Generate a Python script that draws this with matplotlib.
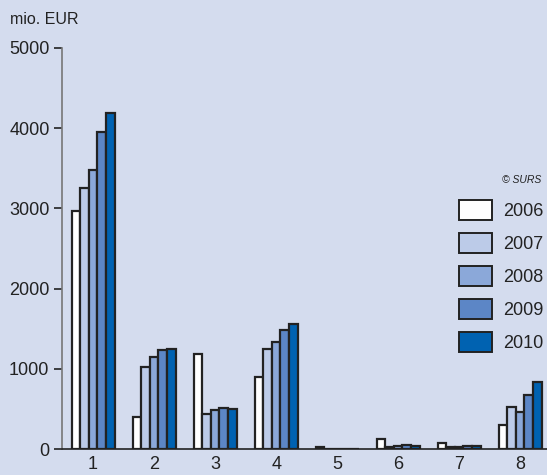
import matplotlib
matplotlib.use("Agg")
import matplotlib.pyplot as plt
import numpy as np

plt.rcParams["font.family"] = ["Liberation Sans", "DejaVu Sans"]

categories = ["1", "2", "3", "4", "5", "6", "7", "8"]
years = ["2006", "2007", "2008", "2009", "2010"]
values = {
    "2006": [2970, 395, 1180, 895, 20, 120, 80, 295],
    "2007": [3255, 1020, 436, 1247, 3, 20, 20, 523],
    "2008": [3480, 1147, 490, 1334, 3, 33, 20, 457],
    "2009": [3950, 1234, 507, 1484, 3, 45, 33, 668],
    "2010": [4190, 1247, 502, 1559, 3, 42, 33, 830],
}
colors = ["#ffffff", "#bccbe8", "#8ba8d9", "#5c86c6", "#0062b1"]

BG = "#d4dcee"
EDGE = "#222222"
TEXT = "#222222"

fig = plt.figure(figsize=(5.47, 4.75), dpi=100, facecolor=BG)
ax = fig.add_axes([62 / 547, 1 - 449 / 475, 1 - 62 / 547, (449 - 48) / 475])
ax.set_facecolor(BG)

x = np.arange(1, len(categories) + 1)
width = 0.141
handles = []
for i, (year, col) in enumerate(zip(years, colors)):
    offs = (i - 2) * width
    b = ax.bar(x + offs, values[year], width, color=col, edgecolor=EDGE,
               linewidth=1.6, label=year)
    handles.append(b)

ax.set_xlim(0.49, 8.44)
ax.set_ylim(0, 5000)
ax.set_yticks([0, 1000, 2000, 3000, 4000, 5000])
ax.set_xticks(x)
ax.set_xticklabels(categories)

for s in ["top", "right"]:
    ax.spines[s].set_visible(False)
ax.spines["left"].set_color("#777777")
ax.spines["left"].set_linewidth(1.2)
ax.spines["bottom"].set_color(EDGE)
ax.spines["bottom"].set_linewidth(1.2)

ax.tick_params(axis="y", length=6, width=1.2, color=EDGE, pad=3,
               labelsize=13, labelcolor=TEXT)
ax.tick_params(axis="x", length=0, pad=5, labelsize=13, labelcolor=TEXT)

fig.text(10 / 547, 1 - 20 / 475, "mio. EUR", fontsize=11.5, color=TEXT,
         va="center", ha="left")
fig.text(541 / 547, 1 - 180 / 475, "© SURS", fontsize=7.5, style="italic",
         color=TEXT, va="center", ha="right")

leg = ax.legend(handles=handles, labels=years, frameon=False,
                loc="upper left", bbox_to_anchor=(459 / 547, 1 - 200 / 475),
                bbox_transform=fig.transFigure, borderpad=0, borderaxespad=0,
                fontsize=13, handlelength=1.85, handleheight=1.35,
                labelspacing=0.7, handletextpad=0.6, labelcolor=TEXT)
for p in leg.get_patches():
    p.set_linewidth(1.4)

fig.savefig("out.png", dpi=100, facecolor=BG)
